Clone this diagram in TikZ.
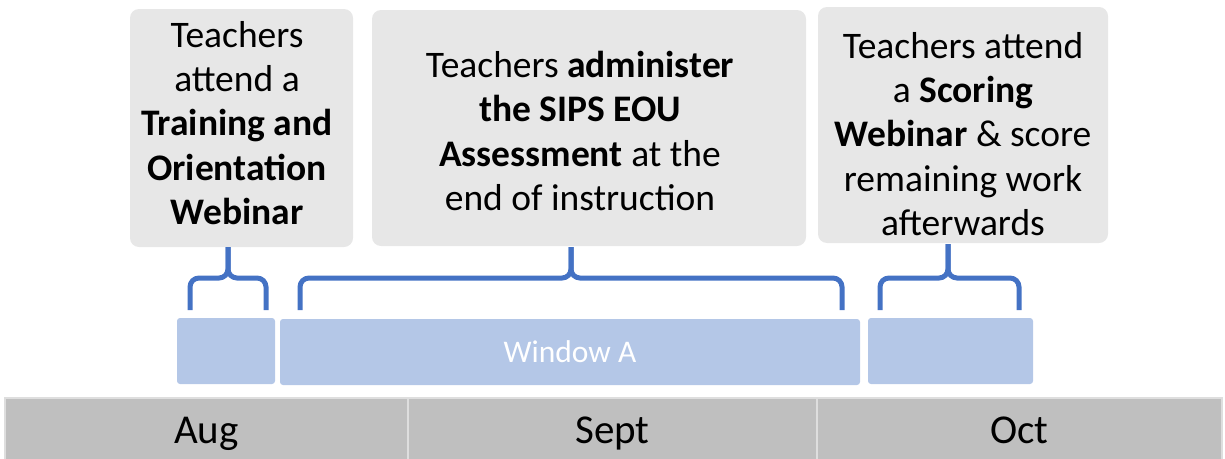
\documentclass[tikz,border=0pt]{standalone}
\usepackage{fontspec}
\setmainfont{Carlito}
\definecolor{notefill}{RGB}{231,231,231}
\definecolor{bracecol}{RGB}{68,114,196}
\definecolor{spanfill}{RGB}{180,199,231}
\definecolor{monthfill}{RGB}{191,191,191}
\definecolor{monthline}{RGB}{222,222,222}
\begin{document}
\begin{tikzpicture}[x=1pt,y=-1pt,
  notebox/.style={fill=notefill,rounded corners=9pt},
  notetext/.style={anchor=north,inner sep=0pt,align=center,font=\fontsize{37.5}{44.3}\selectfont},
  brace/.style={draw=bracecol,line width=5pt,rounded corners=9pt},
  span/.style={fill=spanfill,rounded corners=3pt},
  month/.style={fill=monthfill,draw=monthline,line width=1.5pt},
  monthtext/.style={font=\fontsize{41}{48}\selectfont}]
\useasboundingbox (0,0) rectangle (1225,458);

% description panels
\fill[notebox] (130,9) rectangle (353,247);
\fill[notebox] (372,10) rectangle (806,246);
\fill[notebox] (818,7) rectangle (1108,243);
\node[notetext] (t1) at (237,21) {Teachers\\attend a\\\textbf{Training and}\\\textbf{Orientation}\\\textbf{Webinar}};
\node[notetext] (t2) at (580,51) {Teachers \textbf{administer}\\\textbf{the SIPS EOU}\\\textbf{Assessment} at the\\end of instruction};
\node[notetext] (t3) at (963,32) {Teachers attend\\a \textbf{Scoring}\\\textbf{Webinar} \& score\\remaining work\\afterwards};

% time spans
\node[span,minimum width=98pt,minimum height=66pt,inner sep=0pt] (s1) at (226,351) {};
\node[span,minimum width=580pt,minimum height=66pt,inner sep=0pt,text=white,font=\fontsize{31.5}{36}\selectfont] (s2) at (570,352) {Window A};
\node[span,minimum width=165pt,minimum height=66pt,inner sep=0pt] (s3) at (950.5,351) {};

% braces joining each span to its panel
\coordinate (b1) at (228,247);
\coordinate (b2) at (571,247);
\coordinate (b3) at (948,244);
\draw[brace] (190,310) -- (190,278) -- (228,278) -- (b1);
\draw[brace] (266,310) -- (266,278) -- (228,278) -- (b1);
\draw[brace] (300,310) -- (300,278) -- (571,278) -- (b2);
\draw[brace] (842,310) -- (842,278) -- (571,278) -- (b2);
\draw[brace] (880,310) -- (880,278) -- (948,278) -- (b3);
\draw[brace] (1019,310) -- (1019,278) -- (948,278) -- (b3);

% month bar
\draw[month] (5,398) rectangle (408,462);
\draw[month] (408,398) rectangle (817,462);
\draw[month] (817,398) rectangle (1222,462);
\node[monthtext,anchor=base] (aug) at (206.5,443) {Aug};
\node[monthtext,anchor=base] (sep) at (612.5,443) {Sept};
\node[monthtext,anchor=base] (oct) at (1019.5,443) {Oct};
\end{tikzpicture}
\end{document}
